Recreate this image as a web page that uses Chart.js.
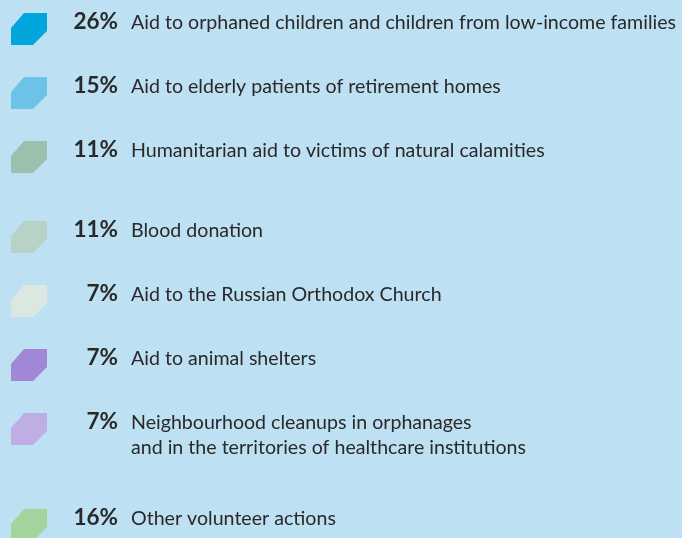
<!DOCTYPE html>
<html><head><meta charset="utf-8">
<script src="https://cdn.jsdelivr.net/npm/chart.js@4"></script>
<style>html,body{margin:0;padding:0;background:#bde0f2;}#wrap{width:682px;height:538px;}</style>
</head><body><div id="wrap"><canvas id="c" width="682" height="538"></canvas></div>
<script>
// ---- data ----
const categories = [
  ["Aid to orphaned children and children from low-income families"],
  ["Aid to elderly patients of retirement homes"],
  ["Humanitarian aid to victims of natural calamities"],
  ["Blood donation"],
  ["Aid to the Russian Orthodox Church"],
  ["Aid to animal shelters"],
  ["Neighbourhood cleanups in orphanages", "and in the territories of healthcare institutions"],
  ["Other volunteer actions"]
];
const shares = [26, 15, 11, 11, 7, 7, 7, 16];
const colors = ["#00a6dc", "#6cc2e8", "#9dbfae", "#b8d2c6", "#dbe7e3", "#a088d6", "#bfaee6", "#a3d49c"];

// ---- layout (row slots, not data) ----
const rowSlots = [0, 1, 2, 3.25, 4.25, 5.25, 6.25, 7.75];

function iconCanvas(color) {
  const c = document.createElement('canvas');
  c.width = 36; c.height = 32;
  const g = c.getContext('2d');
  g.fillStyle = color;
  g.beginPath();
  g.moveTo(13, 0); g.lineTo(36, 0); g.lineTo(36, 18); g.lineTo(22, 32);
  g.lineTo(0, 32); g.lineTo(0, 15); g.closePath(); g.fill();
  return c;
}
const icons = colors.map(iconCanvas);

const labelPlugin = {
  id: 'rowLabels',
  afterDatasetsDraw(chart) {
    const ctx = chart.ctx;
    const meta = chart.getDatasetMeta(0);
    ctx.save();
    ctx.fillStyle = '#2a2829';
    ctx.textBaseline = 'alphabetic';
    meta.data.forEach((el, i) => {
      ctx.font = 'bold 22.5px Lato';
      ctx.textAlign = 'right';
      ctx.fillText(shares[i] + '%', el.x + 89, el.y);
      ctx.font = '19.6px Lato';
      ctx.textAlign = 'left';
      categories[i].forEach((line, j) => ctx.fillText(line, el.x + 102, el.y + j * 25));
    });
    ctx.restore();
  }
};

new Chart(document.getElementById('c'), {
  type: 'scatter',
  data: {
    datasets: [{
      data: shares.map((v, i) => ({ x: 0, y: rowSlots[i], v })),
      pointStyle: icons,
      pointRadius: 16,
      pointHoverRadius: 16
    }]
  },
  options: {
    responsive: false,
    animation: false,
    layout: { padding: 0, autoPadding: false },
    plugins: { legend: { display: false }, tooltip: { enabled: false } },
    scales: {
      x: { display: false, min: -29 / 64, max: (682 - 29) / 64 },
      y: { display: false, reverse: true, min: -29 / 64, max: (538 - 29) / 64 }
    }
  },
  plugins: [labelPlugin]
});
</script></body></html>
